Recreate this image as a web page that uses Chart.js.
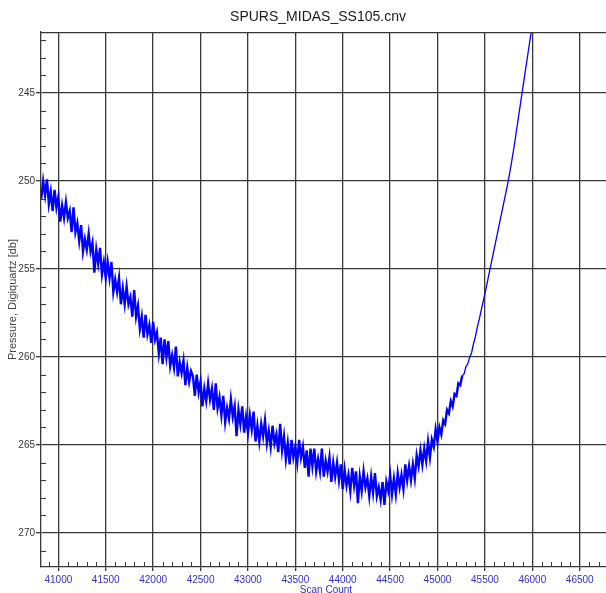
<!DOCTYPE html>
<html lang="en">
<head>
<meta charset="UTF-8" />
<title>SPURS_MIDAS_SS105.cnv</title>
<script src="https://cdn.jsdelivr.net/npm/chart.js@4"></script>
<style>
  html, body { margin: 0; padding: 0; background: #fff; overflow: hidden; }
  canvas { display: block; }
</style>
</head>
<body>
<canvas id="myChart" width="636" height="600"></canvas>
<script>
const chartTitle = "SPURS_MIDAS_SS105.cnv";

// one reading every 20 scans
const scanStart = 40820;
const scanStep = 20;
const pressure = [
  251.0, 250.0, 250.8, 249.9, 251.3, 250.6, 251.7, 250.5, 251.5, 250.9,
  252.3, 251.4, 252.1, 251.2, 252.1, 251.7, 252.9, 251.5, 252.9, 252.4,
  253.4, 252.5, 254.0, 253.3, 253.9, 253.0, 254.0, 253.5, 255.2, 253.9,
  254.7, 253.8, 255.3, 254.6, 255.5, 254.6, 255.5, 254.6, 256.3, 255.6,
  256.3, 255.5, 257.0, 256.1, 257.0, 256.0, 257.0, 256.6, 257.7, 256.2,
  257.7, 257.1, 258.4, 257.7, 258.9, 257.6, 258.7, 258.2, 259.2, 258.0,
  259.0, 258.6, 259.8, 258.9, 260.4, 259.0, 260.0, 259.1, 260.5, 259.9,
  260.6, 259.4, 261.1, 260.3, 260.9, 260.2, 261.6, 260.6, 261.4, 260.8,
  261.1, 262.2, 261.0, 262.0, 261.4, 262.8, 261.8, 262.5, 261.5, 262.4,
  261.8, 263.0, 261.5, 262.9, 262.3, 263.3, 262.2, 263.7, 262.9, 263.5,
  262.4, 263.4, 262.8, 264.5, 263.0, 263.8, 262.8, 264.3, 263.4, 264.3,
  263.3, 264.1, 263.1, 264.8, 263.9, 264.8, 263.8, 264.5, 263.6, 264.9,
  264.2, 265.1, 263.9, 264.9, 264.4, 265.4, 263.8, 265.3, 264.5, 265.8,
  264.9, 266.1, 264.7, 265.7, 265.1, 266.0, 264.7, 265.7, 265.1, 266.3,
  265.3, 266.8, 265.2, 266.2, 265.2, 266.5, 265.8, 266.5, 265.2, 266.8,
  265.9, 266.5, 265.7, 267.1, 266.0, 266.8, 266.0, 267.0, 266.1, 267.5,
  266.4, 267.3, 266.7, 267.6, 266.3, 267.3, 266.5, 268.3, 266.8, 267.6,
  266.5, 267.4, 266.9, 267.9, 266.8, 267.7, 266.6, 267.9, 267.4, 268.1,
  267.1, 268.4, 267.1, 267.6, 266.7, 267.8, 266.9, 267.8, 266.6, 267.4,
  266.7, 267.5, 266.1, 267.0, 266.2, 267.0, 266.1, 266.9, 265.6, 266.2,
  265.3, 266.1, 265.2, 265.9, 264.8, 265.7, 264.7, 265.1, 264.1, 264.8,
  264.0, 264.4, 263.6, 263.8, 263.0, 263.2, 262.5, 262.8, 262.1, 262.2,
  261.5, 261.6, 261.06, 260.96, 260.54, 260.37, 259.99, 259.74, 259.23, 258.83,
  258.30, 257.86, 257.36, 256.88, 256.40, 255.88, 255.36, 254.84, 254.32, 253.80,
  253.28, 252.76, 252.24, 251.72, 251.20, 250.68, 250.16, 249.58, 248.96, 248.30,
  247.60, 246.88, 246.15, 245.42, 244.70, 243.98, 243.26, 242.54, 241.82, 241.10
];

const scanTicks = [41000, 41500, 42000, 42500, 43000, 43500, 44000, 44500, 45000, 45500, 46000, 46500];
const pressureTicks = [245, 250, 255, 260, 265, 270];
const scanRange = [40817, 46830];
const pressureRange = [241.53, 271.93];

const fontFamily = '"Liberation Sans", Arial, sans-serif';
const gridColor = "#383838";
// readings before this index are the noisy ones, drawn a bit heavier
const noisyUntil = 222;

// title centred on the whole canvas, top border and the small minor ticks
const framePlugin = {
    id: "frame",
    afterDraw(chart) {
        const ctx = chart.ctx;
        const area = chart.chartArea;
        const xs = chart.scales.x;
        const ys = chart.scales.y;
        ctx.save();
        ctx.fillStyle = "#1a1a1a";
        ctx.font = "14px " + fontFamily;
        ctx.textAlign = "center";
        ctx.textBaseline = "middle";
        ctx.fillText(chartTitle, chart.width / 2, 17);

        ctx.strokeStyle = gridColor;
        ctx.lineWidth = 1.3;
        ctx.beginPath();
        ctx.moveTo(area.left, Math.round(area.top) + 0.65);
        ctx.lineTo(area.right, Math.round(area.top) + 0.65);
        ctx.stroke();

        ctx.lineWidth = 1;
        ctx.beginPath();
        for (let v = 242; v < pressureRange[1]; v++) {
            if (v % 5 === 0) continue;
            const y = Math.round(ys.getPixelForValue(v)) + 0.5;
            ctx.moveTo(area.left, y);
            ctx.lineTo(area.left + 5, y);
        }
        for (let v = 40900; v < scanRange[1]; v += 100) {
            if (v % 500 === 0) continue;
            const x = Math.round(xs.getPixelForValue(v)) + 0.5;
            ctx.moveTo(x, area.bottom);
            ctx.lineTo(x, area.bottom - 5);
        }
        ctx.stroke();
        ctx.restore();
    },
};

const points = pressure.map((p, i) => ({ x: scanStart + i * scanStep, y: p }));

const config = {
    type: "line",
    data: {
        datasets: [
            {
                data: points,
                borderColor: "#0000ff",
                borderWidth: 1.3,
                pointRadius: 0,
                tension: 0,
                fill: false,
                segment: {
                    borderWidth: (c) => (c.p0DataIndex < noisyUntil ? 2.4 : 1.3),
                },
            },
        ],
    },
    options: {
        responsive: false,
        animation: false,
        layout: { padding: { top: 32, right: 25, left: 0, bottom: 0 } },
        plugins: {
            legend: { display: false },
            title: { display: false },
            tooltip: { enabled: false },
        },
        scales: {
            x: {
                type: "linear",
                min: scanRange[0],
                max: scanRange[1],
                afterBuildTicks: (s) => { s.ticks = scanTicks.map((v) => ({ value: v })); },
                afterFit: (s) => { s.height = 33; },
                ticks: {
                    color: "#3030d0",
                    font: { family: fontFamily, size: 10 },
                    padding: 3,
                    autoSkip: false,
                    maxRotation: 0,
                    callback: (v) => String(v),
                },
                grid: { color: gridColor, lineWidth: 1.3, tickLength: 4 },
                border: { color: gridColor, width: 1.3 },
                title: {
                    display: true,
                    text: "Scan Count",
                    color: "#3030d0",
                    font: { family: fontFamily, size: 10 },
                    padding: { top: 0, bottom: 4 },
                },
            },
            y: {
                type: "linear",
                reverse: true,
                min: pressureRange[0],
                max: pressureRange[1],
                afterBuildTicks: (s) => { s.ticks = pressureTicks.map((v) => ({ value: v })); },
                afterFit: (s) => { s.width = 41; },
                ticks: {
                    color: "#333333",
                    font: { family: fontFamily, size: 10 },
                    padding: 1,
                },
                grid: { color: gridColor, lineWidth: 1.3, tickLength: 5 },
                border: { color: gridColor, width: 1.3 },
                title: {
                    display: true,
                    text: "Pressure, Digiquartz [db]",
                    color: "#444444",
                    font: { family: fontFamily, size: 11 },
                    padding: { top: 6, bottom: 0 },
                },
            },
        },
    },
    plugins: [framePlugin],
};

const myChart = new Chart(document.getElementById("myChart"), config);
</script>
</body>
</html>
